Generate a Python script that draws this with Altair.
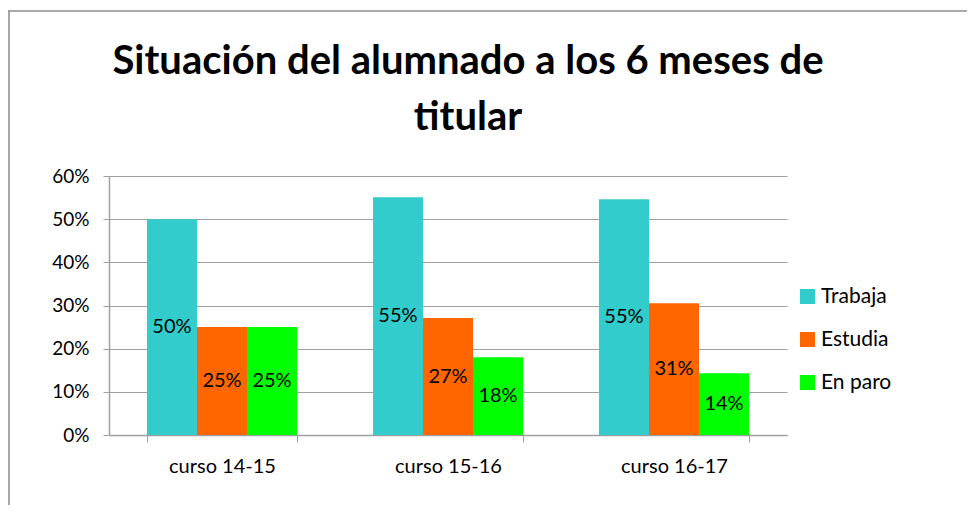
import altair as alt
import pandas as pd

cursos = ["curso 14-15", "curso 15-16", "curso 16-17"]
series = ["Trabaja", "Estudia", "En paro"]
trabaja = [0.50, 0.551, 0.546]
estudia = [0.25, 0.271, 0.305]
en_paro = [0.25, 0.180, 0.143]
colores = ["#33CCCC", "#FF6600", "#00FF00"]
titulo = ["Situación del alumnado a los 6 meses de", "titular"]

rows = []
for i, c in enumerate(cursos):
    for s, vals in zip(series, [trabaja, estudia, en_paro]):
        rows.append({"curso": c, "serie": s, "valor": vals[i]})
df = pd.DataFrame(rows)
one = pd.DataFrame({"a": [0]})

FONT = "Lato"

x = alt.X("curso:N", sort=cursos, title=None,
          scale=alt.Scale(paddingInner=0.336, paddingOuter=0.168),
          axis=alt.Axis(labelAngle=0, labelFontSize=20, labelFont=FONT, labelColor="#000000",
                        labelPadding=14, tickBand="extent", tickSize=7, tickColor="#a0a0a0",
                        domainColor="#a0a0a0", domainWidth=1.5, grid=False))
xo = alt.XOffset("serie:N", sort=series, scale=alt.Scale(paddingInner=0, paddingOuter=0))

bars = alt.Chart(df).mark_bar().encode(
    x=x,
    xOffset=xo,
    y=alt.Y("valor:Q", title=None,
            scale=alt.Scale(domain=[0, 0.6], nice=False),
            axis=alt.Axis(format=".0%", values=[0, 0.1, 0.2, 0.3, 0.4, 0.5, 0.6],
                          labelFontSize=19, labelFont=FONT, labelColor="#000000",
                          labelPadding=14, tickSize=6, tickColor="#a0a0a0",
                          domainColor="#a0a0a0", domainWidth=1.5,
                          gridColor="#a0a0a0", gridWidth=1)),
    color=alt.Color("serie:N", sort=series,
                    scale=alt.Scale(domain=series, range=colores),
                    legend=alt.Legend(title=None, orient="none", legendX=688, legendY=110,
                                      symbolType="square", symbolSize=225, symbolStrokeWidth=0,
                                      labelFontSize=21, labelFont=FONT, labelColor="#000000",
                                      rowPadding=21, labelOffset=3)),
)

labels = alt.Chart(df).transform_calculate(
    mid="datum.valor / 2"
).mark_text(fontSize=20, font=FONT, color="#000000").encode(
    x=alt.X("curso:N", sort=cursos),
    xOffset=xo,
    y=alt.Y("mid:Q"),
    text=alt.Text("valor:Q", format=".0%"),
)

t1 = alt.Chart(one).mark_text(fontSize=40, font=FONT, fontWeight="bold", color="#000000",
                              align="center", baseline="alphabetic").encode(
    x=alt.value(359), y=alt.value(-102), text=alt.value(titulo[0]))
t2 = alt.Chart(one).mark_text(fontSize=40, font=FONT, fontWeight="bold", color="#000000",
                              align="center", baseline="alphabetic").encode(
    x=alt.value(359), y=alt.value(-46), text=alt.value(titulo[1]))

border_top = alt.Chart(one).mark_rule(color="#8c8c8c", strokeWidth=1.5).encode(
    x=alt.value(-101), x2=alt.value(900), y=alt.value(-165))
border_left = alt.Chart(one).mark_rule(color="#8c8c8c", strokeWidth=1.5).encode(
    x=alt.value(-100), y=alt.value(-165), y2=alt.value(400))

chart = alt.layer(bars, labels, t1, t2, border_top, border_left).properties(
    width=678, height=259,
    autosize=alt.AutoSizeParams(type="none"),
    padding={"left": 101, "top": 168, "right": 180, "bottom": 70},
).configure_view(stroke=None)

chart.save("out.html", embed_options={"renderer": "svg", "actions": False})
